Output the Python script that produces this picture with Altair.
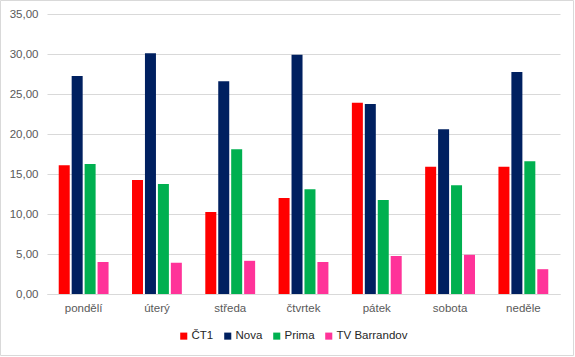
import altair as alt
import pandas as pd

days = ["pondělí", "úterý", "středa", "čtvrtek", "pátek", "sobota", "neděle"]
channels = ["ČT1", "Nova", "Prima", "TV Barrandov"]
ct1 = [16.1, 14.25, 10.25, 12.0, 23.9, 15.9, 15.9]
nova = [27.25, 30.1, 26.6, 29.9, 23.75, 20.6, 27.75]
prima = [16.25, 13.75, 18.1, 13.1, 11.75, 13.6, 16.6]
tvb = [4.0, 3.9, 4.15, 4.0, 4.75, 4.9, 3.1]
colors = ["#FF0000", "#002060", "#00B050", "#FF3399"]

rows = []
for series, name in zip([ct1, nova, prima, tvb], channels):
    for d, v in zip(days, series):
        rows.append({"den": d, "stanice": name, "hodnota": v})
df = pd.DataFrame(rows)

FONT = "Liberation Sans"
GREY = "#595959"

bars = alt.Chart(df).mark_bar().encode(
    x=alt.X("den:N", sort=days, title=None,
            scale=alt.Scale(paddingInner=0.32, paddingOuter=0.16),
            axis=alt.Axis(labelAngle=0, ticks=False, domainColor="#d9d9d9",
                          labelColor=GREY, labelFont=FONT, labelFontSize=11.5,
                          labelPadding=8, grid=False)),
    xOffset=alt.XOffset("stanice:N", sort=channels,
                        scale=alt.Scale(paddingInner=0.15, paddingOuter=0)),
    y=alt.Y("hodnota:Q", title=None,
            scale=alt.Scale(domain=[0, 35]),
            axis=alt.Axis(values=[0, 5, 10, 15, 20, 25, 30, 35], domain=False, ticks=False,
                          labelExpr="replace(format(datum.value, '.2f'), '.', ',')",
                          labelColor=GREY, labelFont=FONT, labelFontSize=11.5,
                          labelPadding=9, gridColor="#d9d9d9")),
    color=alt.Color("stanice:N", sort=channels,
                    scale=alt.Scale(domain=channels, range=colors),
                    legend=alt.Legend(title=None, orient="none", direction="horizontal",
                                      legendX=131, legendY=316,
                                      symbolType="square", symbolSize=50,
                                      symbolStrokeWidth=0, labelFont=FONT,
                                      labelFontSize=11.5, labelColor="#262626",
                                      labelOffset=2, columnPadding=8)),
)

border = alt.Chart(pd.DataFrame({"a": [0]})).mark_rect(
    fill=None, stroke="#d9d9d9", strokeWidth=1
).encode(
    x=alt.value(-46.5), x2=alt.value(526.5), y=alt.value(-13.5), y2=alt.value(341.5)
)

chart = alt.layer(bars, border).properties(
    width=513, height=280,
    autosize=alt.AutoSizeParams(type="none"),
    padding={"left": 47, "top": 14, "right": 15, "bottom": 63},
    background="white",
).configure_view(stroke=None)

chart.save("out.html", embed_options={"renderer": "svg", "actions": False})
